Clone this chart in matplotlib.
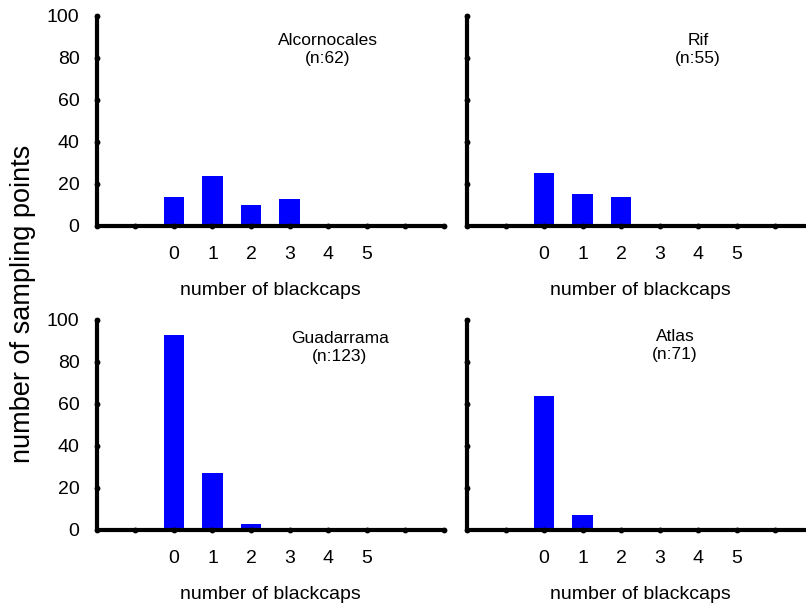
import matplotlib.pyplot as plt

plt.rcParams['font.family'] = ['Liberation Sans', 'DejaVu Sans']

counts = [0, 1, 2, 3, 4, 5]
sites = ['Alcornocales', 'Rif', 'Guadarrama', 'Atlas']
n_points = [62, 55, 123, 71]
alcornocales = [14, 24, 10, 13, 0, 0]
rif = [25, 15, 14, 0, 0, 0]
guadarrama = [93, 27, 3, 0, 0, 0]
atlas = [64, 7, 0, 0, 0, 0]
values = [alcornocales, rif, guadarrama, atlas]

# axes boxes in figure fractions: left, bottom, width, height
boxes = [[0.1203, 0.6277, 0.43, 0.346],
         [0.5794, 0.6277, 0.43, 0.346],
         [0.1203, 0.1269, 0.43, 0.346],
         [0.5794, 0.1269, 0.43, 0.346]]
label_pos = [(4.0, 84), (4.0, 84), (4.3, 87), (3.4, 88)]

fig = plt.figure(figsize=(8.06, 6.07), dpi=100)
for i in range(4):
    ax = fig.add_axes(boxes[i])
    ax.bar(counts, values[i], width=0.53, color='#0000ff', zorder=1)
    ax.set_xlim(-2, 7)
    ax.set_ylim(0, 100)
    ax.set_xticks(range(-1, 8))
    ax.set_xticklabels(['' if (t < 0 or t > 5) else str(t) for t in range(-1, 8)])
    ax.set_yticks(range(0, 101, 20))
    if i % 2 == 1:
        ax.set_yticklabels([])
    for s in ['top', 'right']:
        ax.spines[s].set_visible(False)
    for s in ['left', 'bottom']:
        ax.spines[s].set_linewidth(3)
        ax.spines[s].set_capstyle('round')
    ax.tick_params(labelsize=14, pad=9)
    ax.tick_params(axis='x', pad=11)
    # round dots for tick marks
    for tl in ax.get_xticklines() + ax.get_yticklines():
        tl.set_marker('o')
        tl.set_markersize(4.2)
        tl.set_markeredgewidth(0)
        tl.set_markerfacecolor('black')
        tl.set_zorder(3)
    ax.set_xlabel('number of blackcaps', fontsize=14)
    ax.xaxis.set_label_coords(0.5, -0.265)
    ax.patch.set_visible(False)
    x, y = label_pos[i]
    ax.text(x, y, f'{sites[i]}\n(n:{n_points[i]})', ha='center', va='center',
            fontsize=12.5, linespacing=1.25)

fig.text(0.0285, 0.5, 'number of sampling points', rotation=90,
         ha='center', va='center', fontsize=19.5)

fig.savefig('out.png', dpi=100)
